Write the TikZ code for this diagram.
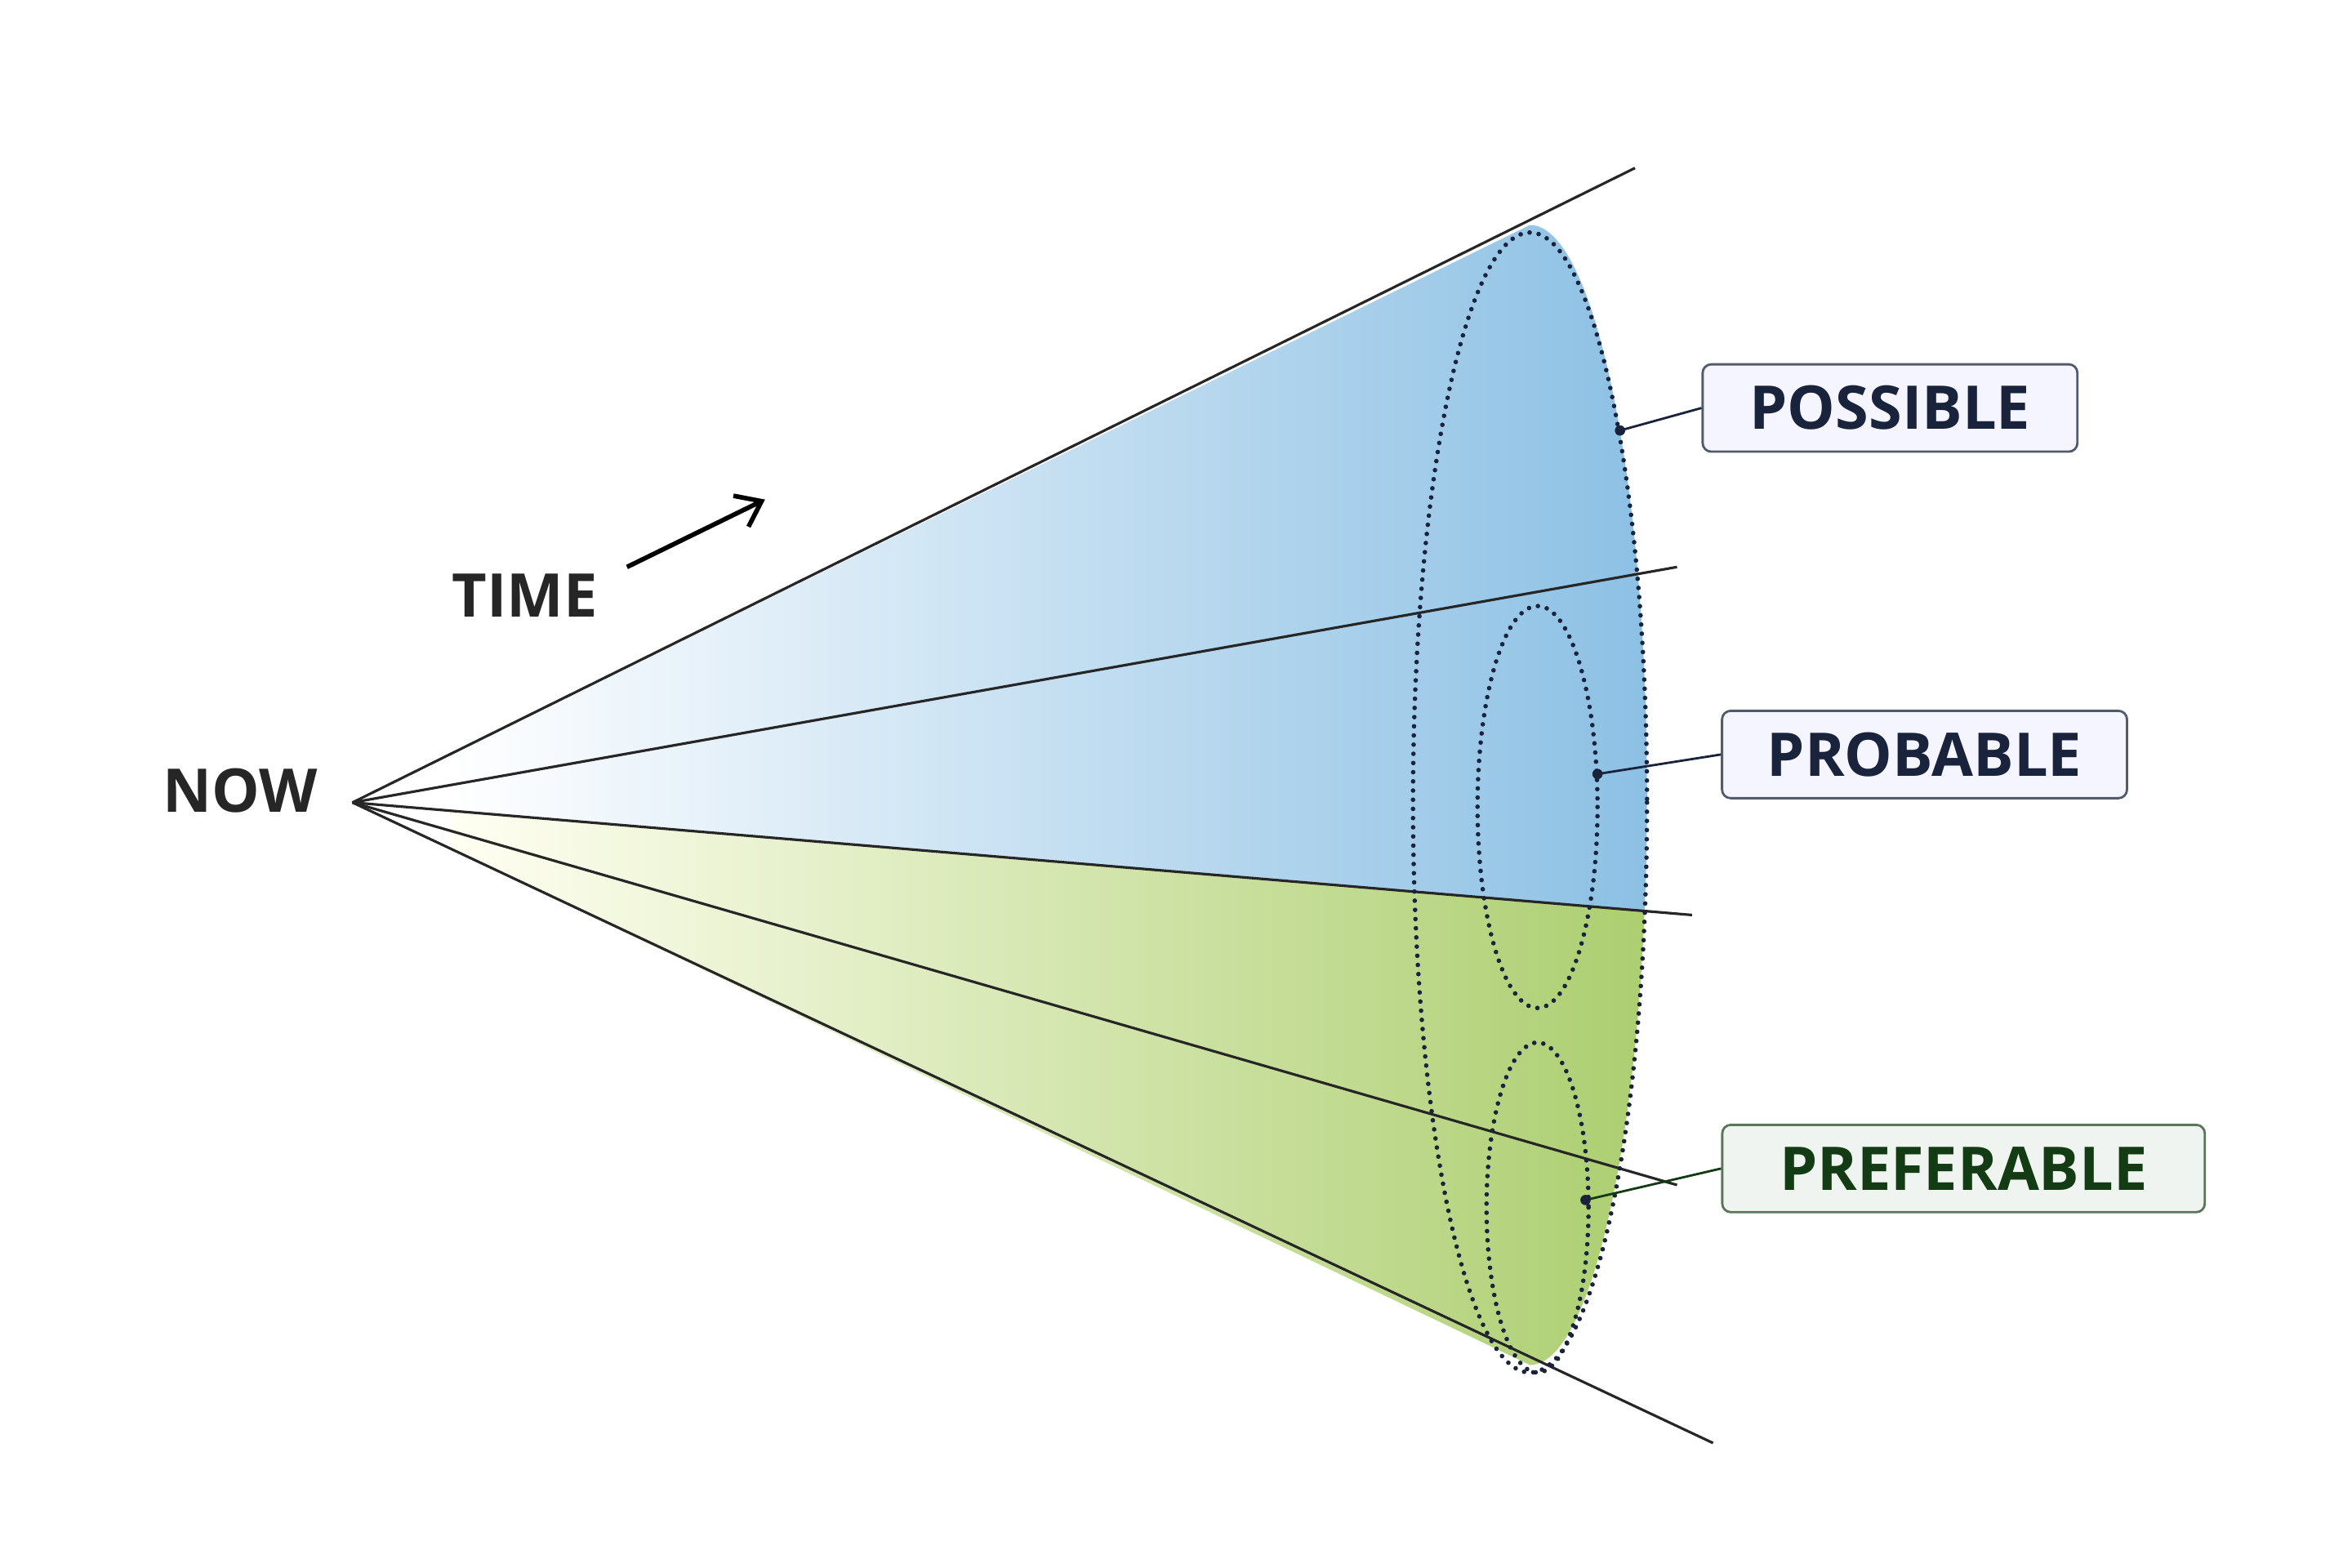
\documentclass[tikz,border=0pt]{standalone}
\usepackage{fontspec}
\setmainfont{Open Sans}
\usetikzlibrary{arrows.meta}
\definecolor{skyb}{RGB}{140,192,228}
\definecolor{leaf}{RGB}{172,206,112}
\definecolor{navy}{RGB}{25,35,60}
\definecolor{dgreen}{RGB}{20,60,20}
\begin{document}
\begin{tikzpicture}[x=0.018367cm,y=-0.018367cm,
  ray/.style={line width=0.9pt,black!85},
  dots/.style={line width=1.6pt,dash pattern=on 0pt off 3.2pt,line cap=round,draw=navy},
  lab/.style={draw=navy!75,fill=blue!4,rounded corners=3pt,line width=0.8pt,font=\fontsize{21}{25}\selectfont\bfseries,text=navy,minimum height=1.07cm,align=center},
  lead/.style={line width=0.8pt,navy}]
\useasboundingbox (0,0) rectangle (1568,1045);
\coordinate (A) at (235,535);
% fills
\begin{scope}
\clip (A) -- (1020,150) arc[start angle=-90,end angle=90,x radius=78,y radius=380] -- cycle;
\begin{scope}
\clip (A) -- (1128,610) -- (1200,610) -- (1200,0) -- (235,0) -- cycle;
\shade[left color=white,right color=skyb] (300,100) rectangle (1100,1000);
\end{scope}
\begin{scope}
\clip (A) -- (1128,610) -- (1200,610) -- (1200,1045) -- (235,1045) -- cycle;
\shade[left color=yellow!5,right color=leaf] (300,100) rectangle (1100,1000);
\end{scope}
\end{scope}
% rays
\coordinate (r1) at (1090,112);
\coordinate (r2) at (1118,378);
\coordinate (r3) at (1128,610);
\coordinate (r4) at (1118,790);
\coordinate (r5) at (1142,962);
\foreach \r in {r1,r2,r3,r4,r5} \draw[ray] (A) -- (\r);
% ellipses
\draw[dots] (1020,535) ellipse[x radius=78,y radius=380];
\draw[dots] (1025,538) ellipse[x radius=40,y radius=134];
\draw[dots] (1025,805) ellipse[x radius=34,y radius=110];
% labels
\node[lab,minimum width=4.59cm] (pos) at (1260,272) {POSSIBLE};
\node[lab,minimum width=4.96cm] (pro) at (1283,503) {PROBABLE};
\node[lab,minimum width=5.91cm,fill=green!25!black!6!white,draw=dgreen!70,text=dgreen] (pre) at (1309,779) {PREFERABLE};
\coordinate (p1) at (1080,287);
\coordinate (p2) at (1065,516);
\coordinate (p3) at (1057,800);
\draw[lead] (p1) -- (pos.west);
\draw[lead] (p2) -- (pro.west);
\draw[lead,dgreen] (p3) -- (pre.west);
\foreach \p in {p1,p2,p3} \fill[navy] (\p) circle (1.8pt);
% text
\node[font=\fontsize{21}{25}\selectfont\bfseries,text=black!85] (now) at (160,527) {NOW};
\node[font=\fontsize{21}{25}\selectfont\bfseries,text=black!85] (time) at (350,397) {TIME};
\coordinate (t1) at (418,378);
\coordinate (t2) at (510,333);
\draw[line width=1.6pt,-{Straight Barb[length=8pt,width=12pt]}] (t1) -- (t2);
\end{tikzpicture}
\end{document}
